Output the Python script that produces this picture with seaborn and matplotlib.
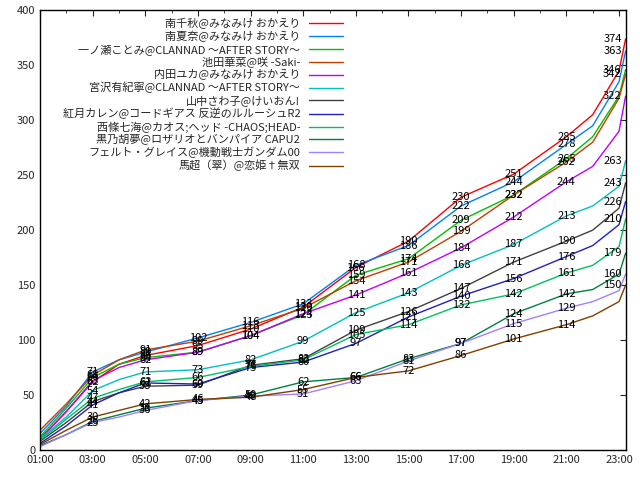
import matplotlib
matplotlib.use("Agg")
import matplotlib.pyplot as plt
import seaborn as sns
import pandas as pd
from matplotlib.ticker import FixedLocator, MultipleLocator

sns.set_style("white")
plt.rcParams['font.family'] = ['Noto Sans CJK JP', 'DejaVu Sans']

hours = [1, 2, 3, 4, 5, 7, 9, 11, 13, 15, 17, 19, 21, 22, 23, 23.25]
names = ["南千秋@みなみけ おかえり", "南夏奈@みなみけ おかえり", "一ノ瀬ことみ@CLANNAD ～AFTER STORY～",
         "池田華菜@咲 -Saki-", "内田ユカ@みなみけ おかえり", "宮沢有紀寧@CLANNAD ～AFTER STORY～",
         "山中さわ子@けいおん!", "紅月カレン@コードギアス 反逆のルルーシュR2", "西條七海@カオス;ヘッド -CHAOS;HEAD-",
         "黒乃胡夢@ロザリオとバンパイア CAPU2", "フェルト・グレイス@機動戦士ガンダム00", "馬超（翠）@恋姫†無双"]
colors = ["#ff0000", "#0080ff", "#00c000", "#c04000", "#c000ff", "#00c0c0",
          "#404040", "#2020c0", "#00c060", "#008040", "#a080ff", "#804000"]
values = [
    [10, 35, 62, 78, 86, 95, 110, 130, 166, 190, 230, 251, 285, 305, 345, 374],
    [15, 40, 71, 82, 89, 102, 116, 133, 168, 186, 222, 244, 278, 295, 335, 363],
    [12, 38, 66, 78, 84, 89, 104, 123, 159, 174, 209, 232, 265, 285, 322, 346],
    [18, 42, 68, 82, 91, 99, 113, 129, 154, 171, 199, 232, 262, 280, 320, 342],
    [10, 35, 63, 75, 82, 89, 104, 124, 141, 161, 184, 212, 244, 258, 290, 322],
    [10, 30, 54, 64, 71, 73, 82, 99, 125, 143, 168, 187, 213, 222, 240, 263],
    [8, 25, 44, 52, 58, 59, 77, 83, 109, 126, 147, 171, 190, 200, 220, 243],
    [6, 22, 41, 52, 61, 60, 75, 80, 97, 121, 140, 156, 176, 186, 205, 226],
    [9, 28, 47, 55, 62, 66, 76, 82, 105, 114, 132, 142, 161, 168, 185, 210],
    [4, 14, 26, 32, 38, 45, 50, 62, 66, 83, 97, 124, 142, 146, 160, 179],
    [3, 14, 25, 30, 36, 45, 49, 51, 63, 81, 97, 115, 129, 135, 145, 160],
    [5, 18, 30, 36, 42, 46, 48, 55, 66, 72, 86, 101, 114, 122, 135, 150],
]

rows = []
for n, vals in zip(names, values):
    for h, v in zip(hours, vals):
        rows.append({"time": h, "votes": v, "name": n})
df = pd.DataFrame(rows)

fig = plt.figure(figsize=(6.4, 4.8), dpi=100)
ax = fig.add_axes([0.0625, 0.0625, 0.915, 0.916])
sns.lineplot(data=df, x="time", y="votes", hue="name", palette=dict(zip(names, colors)),
             linewidth=1, ax=ax, legend=True)

label_hours = [3, 5, 7, 9, 11, 13, 15, 17, 19, 21]
for vals in values:
    for h, v in zip(hours, vals):
        if h in label_hours:
            ax.text(h, v, str(v), ha="center", va="center", fontsize=8, color="black")
    ax.text(22.75, vals[-1], str(vals[-1]), ha="center", va="center", fontsize=8, color="black")

ax.set_xlim(1, 23.25)
ax.set_ylim(0, 400)
ax.xaxis.set_major_locator(FixedLocator([1, 3, 5, 7, 9, 11, 13, 15, 17, 19, 21, 23]))
ax.xaxis.set_minor_locator(MultipleLocator(1))
ax.set_xticklabels([f"{h:02d}:00" for h in [1, 3, 5, 7, 9, 11, 13, 15, 17, 19, 21, 23]])
ax.yaxis.set_major_locator(MultipleLocator(50))
ax.tick_params(axis="both", which="both", direction="in", top=True, right=True, labelsize=8, length=4)
ax.tick_params(which="minor", length=2)
ax.set_xlabel("")
ax.set_ylabel("")
for s in ax.spines.values():
    s.set_color("black"); s.set_linewidth(1)
ax.legend(loc="upper right", bbox_to_anchor=(0.53, 1.0), frameon=False, markerfirst=False,
          fontsize=8, labelspacing=0.15, handlelength=3, borderaxespad=0.3)
leg = ax.get_legend()
for t in leg.get_texts():
    t.set_ha("right")
fig.savefig("out.png", dpi=100)
